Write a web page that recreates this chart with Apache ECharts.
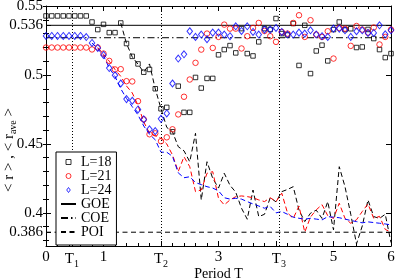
<!DOCTYPE html>
<html><head><meta charset="utf-8">
<script src="https://cdn.jsdelivr.net/npm/echarts@6/dist/echarts.min.js"></script>
<style>html,body{margin:0;padding:0;background:#fff}#c{width:395px;height:280px}</style>
</head><body><div id="c"></div>
<script>
const periods = [0.0,0.1,0.2,0.3,0.4,0.5,0.6,0.7,0.8,0.9,1.0,1.1,1.2,1.3,1.4,1.5,1.6,1.7,1.8,1.9,2.0,2.1,2.2,2.3,2.4,2.5,2.6,2.7,2.8,2.9,3.0,3.1,3.2,3.3,3.4,3.5,3.6,3.7,3.8,3.9,4.0,4.1,4.2,4.3,4.4,4.5,4.6,4.7,4.8,4.9,5.0,5.1,5.2,5.3,5.4,5.5,5.6,5.7,5.8,5.9,6.0];

const r18 = [0.5428,0.5428,0.5428,0.5428,0.5428,0.5428,0.5428,0.5428,0.5384,0.5329,0.5367,0.5307,0.5307,0.5377,0.5228,0.5135,0.5080,0.5020,0.5040,0.4900,0.4755,0.4765,0.4588,0.4919,0.4729,0.4729,0.4982,0.4905,0.4975,0.4975,0.5146,0.5184,0.5213,0.5160,0.5336,0.5155,0.5138,0.5240,0.5336,0.5330,0.5409,0.5300,0.5290,0.5373,0.5069,0.5360,0.5010,0.5174,0.5216,0.5102,0.5329,0.5384,0.5329,0.5335,0.5199,0.5203,0.5330,0.5264,0.5184,0.5126,0.5155];
const r21 = [0.5199,0.5199,0.5199,0.5199,0.5199,0.5199,0.5199,0.5199,0.5185,0.5199,0.5155,0.5102,0.5040,0.5042,0.4955,0.4953,0.4810,0.4678,0.4570,0.4577,0.4520,0.4548,0.4606,0.4714,0.4842,0.4967,0.5088,0.5184,0.5300,0.5196,0.5276,0.5365,0.5336,0.5336,0.5192,0.5281,0.5341,0.5377,0.5319,0.5281,0.5240,0.5312,0.5300,0.5377,0.5433,0.5276,0.5397,0.5293,0.5276,0.5317,0.5119,0.5341,0.5336,0.5211,0.5355,0.5329,0.5307,0.5344,0.5221,0.5276,0.5329];
const r24 = [0.5283,0.5283,0.5283,0.5283,0.5283,0.5283,0.5283,0.5275,0.5232,0.5196,0.5145,0.5050,0.4998,0.4938,0.4825,0.4813,0.4750,0.4678,0.4606,0.4593,0.4682,0.4721,0.4938,0.5119,0.5150,0.5317,0.5276,0.5293,0.5259,0.5307,0.5307,0.5293,0.5281,0.5353,0.5319,0.5353,0.5312,0.5293,0.5329,0.5329,0.5341,0.5312,0.5293,0.5293,0.5307,0.5300,0.5324,0.5293,0.5281,0.5276,0.5336,0.5336,0.5324,0.5276,0.5317,0.5324,0.5305,0.5305,0.5360,0.5295,0.5324];

const ave18 = [null,null,null,null,null,null,null,null,null,null,null,null,null,0.5377,0.5228,0.5131,0.5078,0.5020,0.5080,0.4900,0.4755,0.4620,0.4588,0.4480,0.4450,0.4371,0.4577,0.4094,0.4371,0.4250,0.4180,0.4287,0.4200,0.4150,0.4034,0.3954,0.4166,0.3973,0.3990,0.4110,0.4080,0.4154,0.4170,0.4190,0.4020,0.3937,0.3998,0.4020,0.3960,0.4082,0.3877,0.4335,0.4190,0.3990,0.3775,0.3905,0.4094,0.3973,0.3960,0.3990,0.3785];
const ave21 = [null,null,null,null,null,null,null,null,null,0.5199,0.5150,0.5100,0.5040,0.4990,0.4920,0.4870,0.4780,0.4660,0.4577,0.4560,0.4540,0.4500,0.4420,0.4300,0.4407,0.4335,0.4154,0.4166,0.4287,0.4299,0.4106,0.4058,0.4094,0.4118,0.4123,0.4118,0.4110,0.4094,0.4082,0.4110,0.4082,0.4143,0.4000,0.3960,0.4050,0.3860,0.3970,0.4022,0.4060,0.3980,0.3960,0.4070,0.3960,0.3925,0.3950,0.4010,0.4065,0.3960,0.3975,0.3880,0.3860];
const ave24 = [null,null,null,null,null,null,null,null,0.5232,0.5190,0.5140,0.5050,0.4990,0.4900,0.4830,0.4770,0.4710,0.4630,0.4570,0.4530,0.4440,0.4440,0.4410,0.4290,0.4255,0.4262,0.4220,0.4205,0.4190,0.4180,0.4160,0.4110,0.4100,0.4106,0.4100,0.4082,0.4065,0.4050,0.4034,0.4046,0.4000,0.4010,0.3990,0.3969,0.3961,0.3954,0.3961,0.3955,0.3949,0.3973,0.3969,0.3965,0.3955,0.3945,0.3937,0.3928,0.3935,0.3930,0.3925,0.3920,0.3913];

const seriesNames = ['L=18','L=21','L=24'];
const refNames = ['GOE','COE','POI'];
const refValues = [0.536, 0.527, 0.386];
const specialT = [0.45, 2.0, 4.05];
const xLabelValues = [0, 0.45, 1, 2, 3, 4.05, 5, 6];
const yLabelValues = [0.386, 0.4, 0.45, 0.5, 0.536, 0.55];
const yMinorTicks = [0.38,0.39,0.40,0.41,0.42,0.43,0.44,0.45,0.46,0.47,0.48,0.49,0.50,0.51,0.52,0.53,0.54,0.55];
const yTitle = '{a|< r > , < r}{s|ave}{a| >}';

const FONT = "'Liberation Serif','DejaVu Serif',serif";
const pairs = arr => periods.map((t, i) => [t, arr[i]]);

const colors = ['#000000', '#ff0000', '#0000ff'];
const symbols = ['rect', 'circle', 'diamond'];
const sizes = [4.5, 5.5, [5.5, 7]];
const legendIcons = [
  'path://M0,0L10,0L10,10L0,10Z',
  'path://M5,0A5,5,0,1,1,5,10A5,5,0,1,1,5,0Z',
  'path://M5,0L10,7L5,14L0,7Z'
];
const raw = [r18, r21, r24];
const aves = [ave18, ave21, ave24];

const series = [];
aves.forEach((a, i) => {
  series.push({
    name: 'ave' + seriesNames[i], type: 'line', data: pairs(a), symbol: 'none', showSymbol: false,
    connectNulls: false, color: colors[i], silent: true, z: 2,
    lineStyle: { color: colors[i], width: 1, type: [5, 3] }
  });
});
const refTypes = ['solid', [7, 3, 1.5, 3], [5, 3.5]];
refNames.forEach((n, i) => {
  const s = {
    name: n, type: 'line', data: [[0, refValues[i]], [6, refValues[i]]], symbol: 'none', showSymbol: false,
    color: '#000', silent: true, z: 3,
    lineStyle: { color: '#000', width: 1, type: refTypes[i] }
  };
  if (i === 0) {
    s.markLine = {
      silent: true, symbol: ['none', 'none'], label: { show: false },
      lineStyle: { color: '#000', width: 1, type: [1, 2] },
      data: specialT.map(t => ({ xAxis: t }))
    };
  }
  series.push(s);
});
raw.forEach((r, i) => {
  series.push({
    name: seriesNames[i], type: 'scatter', data: pairs(r), symbol: symbols[i], symbolSize: sizes[i],
    clip: false, z: 5, color: colors[i],
    itemStyle: { color: 'rgba(0,0,0,0)', borderColor: colors[i], borderWidth: 1 },
    emphasis: { disabled: true }
  });
});

const axLine = { show: true, onZero: false, lineStyle: { color: '#000', width: 1 } };
const xBase = {
  type: 'value', min: 0, max: 6, interval: 1,
  axisLine: axLine,
  axisTick: { show: true, inside: true, length: 5, lineStyle: { color: '#000' } },
  minorTick: { show: true, splitNumber: 5, length: 3, lineStyle: { color: '#000' } },
  splitLine: { show: false }, minorSplitLine: { show: false }
};
const yBase = {
  type: 'value', min: 0.376, max: 0.55,
  axisLine: axLine, splitLine: { show: false }, axisLabel: { show: false }
};

const legendData = seriesNames.map((n, i) => ({
  name: n, icon: legendIcons[i],
  itemStyle: { color: 'rgba(0,0,0,0)', borderColor: colors[i], borderWidth: 1 }
})).concat(refNames.map(n => ({
  name: n,
  itemStyle: { color: 'rgba(0,0,0,0)', borderColor: 'rgba(0,0,0,0)', borderWidth: 0 }
})));

const option = {
  animation: false,
  backgroundColor: '#fff',
  grid: { left: 46, right: 4, top: 6, bottom: 34, containLabel: false, outerBoundsMode: 'none' },
  legend: {
    orient: 'vertical', left: 56, top: 152, padding: [3, 5, 6, 4], itemGap: 0,
    itemWidth: 15, itemHeight: 5, borderColor: '#000', borderWidth: 1, borderRadius: 0,
    backgroundColor: '#fff', selectedMode: false, z: 10, symbolKeepAspect: true,
    textStyle: { fontFamily: FONT, fontSize: 14, color: '#000', lineHeight: 13.6 },
    data: legendData
  },
  graphic: [{
    type: 'text', x: 9, y: 150, rotation: Math.PI / 2, silent: true,
    style: {
      text: yTitle, align: 'center', verticalAlign: 'middle', fill: '#000',
      rich: {
        a: { fontFamily: FONT, fontSize: 15, fill: '#000', color: '#000' },
        s: { fontFamily: FONT, fontSize: 10, fill: '#000', color: '#000', padding: [8, 0, 0, 0] }
      }
    }
  }],
  xAxis: [
    Object.assign({}, xBase, {
      position: 'bottom',
      axisLabel: {
        customValues: xLabelValues, margin: 4, color: '#000', fontFamily: FONT, fontSize: 15,
        hideOverlap: false,
        formatter: v => {
          const k = specialT.findIndex(s => Math.abs(s - v) < 1e-9);
          return k >= 0 ? '{t|T}{s|' + (k + 1) + '}' : String(v);
        },
        rich: {
          t: { fontFamily: FONT, fontSize: 15, color: '#000' },
          s: { fontFamily: FONT, fontSize: 10, color: '#000', padding: [9, 0, 0, 0] }
        }
      },
      name: 'Period T', nameLocation: 'middle', nameGap: 21, nameMoveOverlap: false,
      nameTextStyle: { fontFamily: FONT, fontSize: 14, color: '#000' }
    }),
    Object.assign({}, xBase, { position: 'top', axisLabel: { show: false } })
  ],
  yAxis: [
    Object.assign({}, yBase, {
      position: 'left',
      axisTick: { show: true, inside: true, length: 5, customValues: yLabelValues, lineStyle: { color: '#000' } },
      axisLabel: {
        show: true, customValues: yLabelValues, margin: 3, color: '#000', fontFamily: FONT, fontSize: 15,
        hideOverlap: false,
        formatter: v => String(v)
      }
    }),
    Object.assign({}, yBase, {
      position: 'right',
      axisTick: { show: true, inside: true, length: 5, customValues: yLabelValues, lineStyle: { color: '#000' } }
    }),
    Object.assign({}, yBase, {
      position: 'left', axisLine: { show: false },
      axisTick: { show: true, inside: true, length: 3, customValues: yMinorTicks, lineStyle: { color: '#000' } }
    }),
    Object.assign({}, yBase, {
      position: 'right', axisLine: { show: false },
      axisTick: { show: true, inside: true, length: 3, customValues: yMinorTicks, lineStyle: { color: '#000' } }
    })
  ],
  series: series
};

const chart = echarts.init(document.getElementById('c'), null, { renderer: 'canvas' });
chart.setOption(option);
</script>
</body></html>
